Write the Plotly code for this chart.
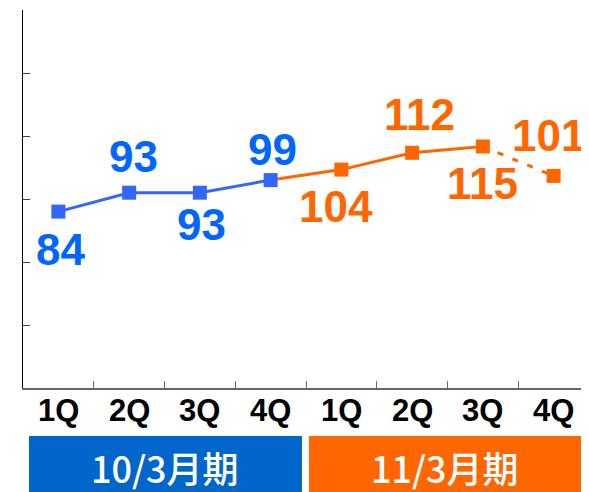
import plotly.graph_objects as go

# quarterly values, two fiscal years
quarters = ["1Q", "2Q", "3Q", "4Q", "1Q", "2Q", "3Q", "4Q"]
values = [84, 93, 93, 99, 104, 112, 115, 101]
labels = ["84", "93", "93", "99", "104", "112", "115", "101"]
periods = ["10/3月期", "11/3月期"]

BLUE = "#3366FF"
BLUE_TXT = "#0066FF"
BLUE_BOX = "#0066CC"
ORANGE = "#FF6600"
FONT = "Liberation Sans, Arial"

x = list(range(len(values)))

fig = go.Figure()

# orange solid segment (4Q of first year through 3Q of second year)
fig.add_trace(go.Scatter(x=x[3:7], y=values[3:7], mode="lines",
                         line=dict(color=ORANGE, width=3), showlegend=False, hoverinfo="none"))
# dotted forecast segment
fig.add_trace(go.Scatter(x=x[6:8], y=values[6:8], mode="lines",
                         line=dict(color=ORANGE, width=3, dash="6px,10px"), showlegend=False, hoverinfo="none"))
# blue series
fig.add_trace(go.Scatter(x=x[:4], y=values[:4], mode="lines+markers",
                         line=dict(color=BLUE, width=3),
                         marker=dict(symbol="square", size=14, color=BLUE),
                         showlegend=False, hoverinfo="none"))
fig.add_trace(go.Scatter(x=x[4:], y=values[4:], mode="markers",
                         marker=dict(symbol="square", size=14, color=ORANGE),
                         showlegend=False, hoverinfo="none"))

# label offsets (px) relative to each point
offs = [(2, -38), (4, 36), (2, -32), (2, 31), (-5, -37), (7, 38), (0, -37), (-5, 40)]
for i, (v, t) in enumerate(zip(values, labels)):
    dx, dy = offs[i]
    fig.add_annotation(x=i, y=v, text=t, showarrow=False, xshift=dx, yshift=dy,
                       font=dict(family=FONT, size=44, weight="bold",
                                 color=BLUE_TXT if i < 4 else ORANGE))

# quarter labels under the axis
for i, q in enumerate(quarters):
    fig.add_annotation(x=i, xref="x", yref="paper", y=-0.06, yanchor="middle", text=q,
                       showarrow=False, font=dict(family=FONT, size=31, weight="bold", color="black"))

# period boxes under the axis
boxes = [(-0.415, 3.443, BLUE_BOX), (3.542, 7.40, ORANGE)]
for (x0, x1, c), p in zip(boxes, periods):
    fig.add_shape(type="rect", xref="x", yref="paper", x0=x0, x1=x1, y0=-0.28, y1=-0.127,
                  fillcolor=c, line=dict(width=0), layer="above")
    fig.add_annotation(xref="x", yref="paper", x=(x0 + x1) / 2, y=-0.21, yanchor="middle",
                       text=p, showarrow=False,
                       font=dict(family="Noto Sans CJK JP", size=36, weight=500, color="white"))

fig.update_xaxes(range=[-0.5, 7.5], tickvals=x, showticklabels=False, ticks="",
                 showline=True, linecolor="#666666", linewidth=2, showgrid=False, zeroline=False,
                 minor=dict(tickvals=[0.5, 1.5, 2.5, 3.5, 4.5, 5.5, 6.5], ticks="inside",
                            ticklen=7, tickcolor="#666666", tickwidth=1, showgrid=False))
fig.update_yaxes(range=[0, 180], dtick=30, ticks="inside", ticklen=7, tickcolor="#444444",
                 showticklabels=False, showline=True, linecolor="black", linewidth=1,
                 showgrid=False, zeroline=False)

# page body adds an 8px offset, so the figure is 8px smaller than the window
fig.update_layout(width=581, height=484, margin=dict(l=15, r=0, t=2, b=104),
                  plot_bgcolor="white", paper_bgcolor="white")

fig.write_html("out.html")
